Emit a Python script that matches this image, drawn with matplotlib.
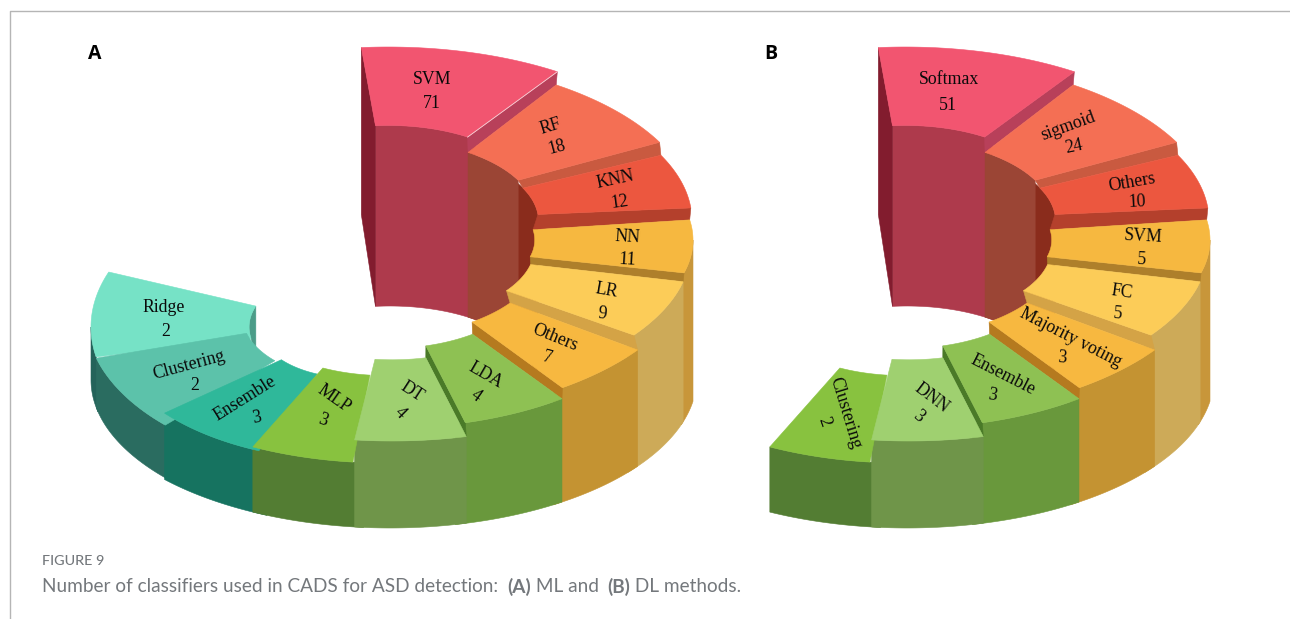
import numpy as np
import matplotlib
matplotlib.use("Agg")
import matplotlib.pyplot as plt
from matplotlib.patches import Polygon

# ---- data ----
names_a = ["SVM", "RF", "KNN", "NN", "LR", "Others", "LDA", "DT", "MLP", "Ensemble", "Clustering", "Ridge"]
counts_a = [71, 18, 12, 11, 9, 7, 4, 4, 3, 3, 2, 2]
names_b = ["Softmax", "sigmoid", "Others", "SVM", "FC", "Majority voting", "Ensemble", "DNN", "Clustering"]
counts_b = [51, 24, 10, 5, 5, 3, 3, 3, 2]

# ---- drawing geometry of the stepped ring: one tuple per wedge position ----
# cx, cy, rx, ry, inner ratio, start angle, end angle
WEDGES = [
    (388, 195, 306, 148, .47, -95.0, -56.4),
    (385, 216, 311, 157, .485, -56.6, -28.0),
    (385, 221, 307, 150, .50, -26.0, -5.0),
    (370, 240, 323, 141, .51, -8.2, 13.5),
    (384, 248, 307, 150, .49, 13.0, 35.5),
    (380, 255, 318, 162, .505, 35.9, 55.0),
    (389, 274, 295, 154, .483, 54.1, 75.0),
    (392, 292, 307, 149, .455, 76.0, 97.0),
    (385, 298, 307, 165, .47, 96.0, 115.5),
    (353, 327, 246, 134, .38, 112.5, 140.0),
    (351, 316, 265, 153, .41, 134.5, 164.0),
    (346, 327, 255, 150, .38, 168.5, 201.5),
]
TOP = ["#F25570", "#F46F54", "#EC573F", "#F6B840", "#FCCC58", "#F7B840",
       "#8EC153", "#9FD070", "#88C23F", "#2FB89A", "#5CC2AA", "#76E2C6"]
LIP = ["#B8405A", "#C95A40", "#B4402C", "#AE7F2B", "#D4A346", "#B57A1F", "#4A7A28"]
OUTER = {3: "#C8963A", 4: "#CDAA58", 5: "#C49332", 6: "#69983C", 7: "#6F9549",
         8: "#537D33", 9: "#167360", 10: "#2A6C60", 11: "#24635A"}
INNER = {0: "#AE3A4C", 1: "#9B4535", 2: "#8A2C1C"}
BASE_RIGHT = (390, 377, 307, 151)
BASE_LEFT = (398, 380, 307, 150)
BASE_INNER = (390, 376, 144, 70)

# label centres (name x, y, rot; value x, y, rot)
LAB_A = [(432, 79, 0, 432, 104, 0), (551, 127, 17, 557, 147, 15), (615, 180, 12, 620, 202, 8),
         (627, 237, -3, 627, 260, -3), (606, 291, -10, 602, 314, -5), (555, 338, -22, 547, 358, -15),
         (486, 375, -30, 476, 396, -35), (412, 392, -33, 400, 413, -45), (334, 399, -35, 323, 420, -20),
         (245, 399, 32, 257, 418, 10), (189, 365, 15, 195, 386, 0), (164, 308, 0, 166, 331, 0)]
LAB_B = [(949, 79, 0, 948, 105, 0), (1068, 126, 20, 1074, 147, 12), (1132, 182, 10, 1137, 202, 3),
         (1143, 237, -3, 1142, 260, -3), (1122, 292, -8, 1118, 314, -5), (1071, 338, -27, 1062, 358, -5),
         (1003, 375, -27, 992, 395, -10), (932, 398, -37, 918, 416, -40), (845, 413, -73, 824, 422, -70)]

fig = plt.figure(figsize=(12.9, 6.19), dpi=100)
ax = fig.add_axes([0, 0, 1, 1])
ax.set_xlim(0, 1290)
ax.set_ylim(619, 0)
ax.axis("off")


def arc(w, ratio, t0, t1, dx):
    cx, cy, rx, ry = w[:4]
    t = np.radians(np.linspace(t0, t1, 60))
    return np.c_[cx + dx + ratio * rx * np.cos(t), cy + ratio * ry * np.sin(t)]


def base_y(x, b, dx, sign=1):
    cx, cy, rx, ry = b
    return cy + sign * ry * np.sqrt(np.clip(1 - ((x - cx - dx) / rx) ** 2, 0, 1))


def poly(pts, color, z):
    ax.add_patch(Polygon(pts, closed=True, facecolor=color, edgecolor=color, lw=0.4, zorder=z))


def panel(n, dx):
    # inner walls at the back
    for k, (i, before, after) in enumerate(((2, 4, 0), (0, 0, 4), (1, 0, 0))):
        w = WEDGES[i]
        top = arc(w, w[4], w[5] - before, w[6] + after, dx)
        low = np.c_[top[:, 0], base_y(top[:, 0], BASE_INNER, dx, -1)]
        poly(np.r_[top, low[::-1]], INNER[i], 1 + 0.01 * k)
    # dark radial side of the first wedge
    w = WEDGES[0]
    o, a = arc(w, 1, w[5], w[5], dx)[0], arc(w, w[4], w[5], w[5], dx)[0]
    poly([o, a, (a[0], base_y(a[0], BASE_INNER, dx, -1)), (o[0], o[1] + 167)], "#821C2E", 1.5)
    # far wedge of the left side: inner wall
    if n == 12:
        w = WEDGES[11]
        top = arc(w, w[4], w[5], w[6], dx)
        poly(np.r_[top, [[top[-1, 0], top[-1, 1] + 50], [top[0, 0], top[0, 1]]]], "#4B9C88", 2)
    # outer walls, back to front; each runs slightly under the nearer neighbour
    for k, i in enumerate([11, 10, 9, 8, 3, 4, 5, 6, 7]):
        if i >= n:
            continue
        w = WEDGES[i]
        t0 = w[5] - 2 if i >= 8 else w[5]
        t1 = w[6] + 2 if i <= 6 else w[6]
        top = arc(w, 1, max(t0, 0), min(t1, 180), dx)
        b = BASE_LEFT if i >= 10 else BASE_RIGHT
        poly(np.r_[top, np.c_[top[:, 0], base_y(top[:, 0], b, dx)][::-1]], OUTER[i], 3 + 0.01 * k)
    # steps between neighbouring wedges
    for i in range(7):
        w, v = WEDGES[i], WEDGES[i + 1]
        poly([arc(w, 1, w[6], w[6], dx)[0], arc(w, w[4], w[6], w[6], dx)[0],
              arc(v, v[4], v[5], v[5], dx)[0], arc(v, 1, v[5], v[5], dx)[0]], LIP[i], 4)
    # top faces
    order = [i for i in [0, 1, 2, 3, 4, 5, 6, 11, 10, 9, 8, 7] if i < n]
    for k, i in enumerate(order):
        w = WEDGES[i]
        poly(np.r_[arc(w, 1, w[5], w[6], dx), arc(w, w[4], w[6], w[5], dx)], TOP[i], 5 + 0.01 * k)


def labels(names, counts, lab):
    for nm, c, (x, y, r, x2, y2, r2) in zip(names, counts, lab):
        kw = dict(family="Liberation Serif", fontsize=12.8, color="#0A0A0A", ha="center",
                  va="center", rotation_mode="anchor", zorder=10)
        ax.text(x, y, nm, rotation=r, **kw)
        ax.text(x2, y2, str(c), rotation=r2, **kw)


panel(len(names_a), 0)
panel(len(names_b), 517)
w = WEDGES[0]
ax.plot(*np.array([arc(w, 1, w[6], w[6], 0)[0], arc(w, w[4], w[6], w[6], 0)[0]]).T,
        color="#F6D5DA", lw=0.6, zorder=6)
labels(names_a, counts_a, LAB_A)
labels(names_b, counts_b, LAB_B)

# frame, panel letters, caption
ax.plot([1290, 9.5, 9.5], [10.5, 10.5, 619], color="#B5B5B5", lw=1, clip_on=False)
for s, x in (("A", 95), ("B", 771)):
    ax.text(x, 54, s, family="Open Sans", weight="bold", fontsize=14, ha="center", va="center", color="black")
GREY = "#74787C"
ax.text(42, 561, "FIGURE 9", family="Lato", fontsize=10.4, color=GREY, va="center", weight="medium")
r = fig.canvas.get_renderer()
x = 42
parts = [("Number of classifiers used in CADS for ASD detection: ", "normal"), ("(A)", "bold"),
         (" ML and ", "normal"), ("(B)", "bold"), (" DL methods.", "normal")]
for s, wt in parts:
    t = ax.text(x, 587, s, family="Lato", fontsize=13.7, color=GREY, va="center", weight=wt)
    bb = t.get_window_extent(r)
    x = bb.x1 + (4 if s.endswith(" ") else 0)

fig.savefig("out.png", dpi=100)
